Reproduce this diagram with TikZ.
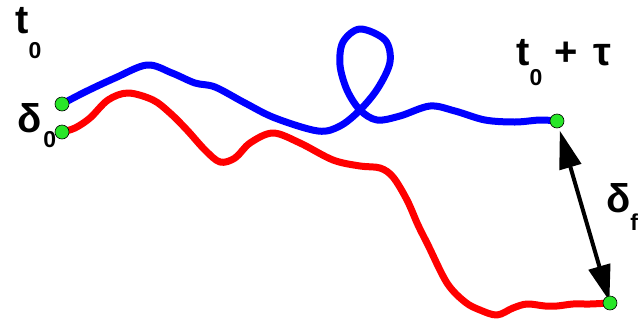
\documentclass[tikz,border=0pt]{standalone}
\usepackage{fontspec}
\setmainfont{Liberation Sans}
\usepackage{tikz}
\usetikzlibrary{arrows.meta}
\definecolor{dotgreen}{RGB}{40,230,40}
\newcommand{\lblsub}[2]{\raisebox{#1}{\fontsize{23}{23}\selectfont\bfseries #2}}

\begin{document}
\begin{tikzpicture}[x=1pt,y=-1pt,
        path/.style={line width=7pt,line cap=round,line join=round},
        enddot/.style={circle,fill=dotgreen,draw=black,line width=0.6pt,inner sep=0pt,minimum size=14pt},
        lbl/.style={anchor=base west,inner sep=0pt,font=\fontsize{40}{44}\selectfont\bfseries}]
        \useasboundingbox (0,0) rectangle (638,322);
        \coordinate (bstart) at (62,104);
        \coordinate (rstart) at (62,132);
        \coordinate (bend) at (557,121);
        \coordinate (rend) at (610,303);
        \draw[path,blue] plot[smooth,tension=0.55] coordinates {(bstart) (85,92) (115,78) (147,65) (172,73) (195,83) (215,87) (245,103) (275,118) (318,131) (340,126) (360,110) (378,88) (390,62) (385,40) (360,29) (343,42) (340,65) (347,90) (360,110) (377,120) (400,116) (430,106) (455,111) (485,120) (515,122) (540,120) (bend)};
        \draw[path,red] plot[smooth,tension=0.55] coordinates {(rstart) (75,128) (90,118) (108,100) (128,93) (153,100) (170,113) (187,130) (205,150) (220,162) (235,158) (250,143) (273,133) (300,143) (333,160) (360,166) (380,168) (393,177) (407,200) (418,225) (428,245) (447,283) (465,302) (480,310) (497,315) (513,308) (527,304) (545,306) (557,306) (573,304) (590,304) (rend)};
        \draw[line width=4pt,{Triangle[length=38pt,width=22pt]}-{Triangle[length=36pt,width=22pt]},shorten <=10pt,shorten >=2pt] (bend) -- (rend);
        \node[enddot] (b0) at (bstart) {};
        \node[enddot] (r0) at (rstart) {};
        \node[enddot] (b1) at (bend) {};
        \node[enddot] (r1) at (rend) {};
        \node[lbl] (tlbl) at (15,33) {t\lblsub{-25pt}{0}};
        \node[lbl] (dlbl) at (17,132) {δ\hspace{2pt}\lblsub{-15pt}{0}};
        \node[lbl] (tplbl) at (516,65) {t\lblsub{-20pt}{0}\hspace{12pt}+\hspace{16pt}τ};
        \node[lbl] (dflbl) at (606,212) {δ\lblsub{-18pt}{f}};
\end{tikzpicture}
\end{document}
